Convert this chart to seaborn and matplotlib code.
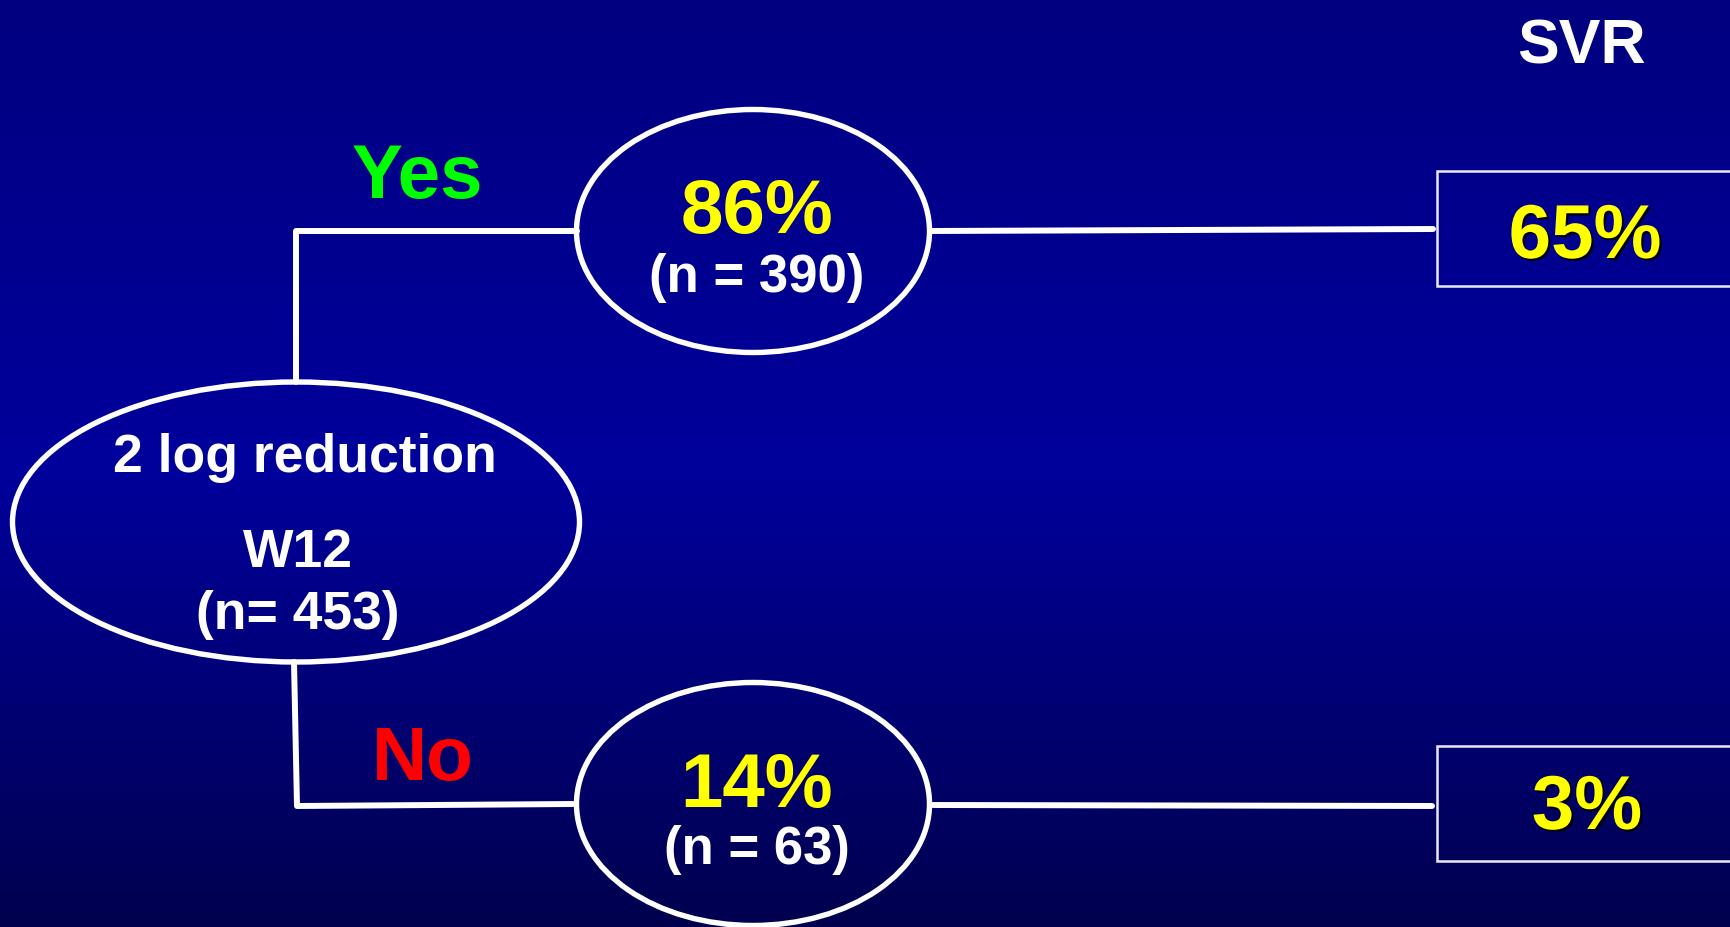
import numpy as np
import pandas as pd
import matplotlib
matplotlib.use("Agg")
import matplotlib.pyplot as plt
import matplotlib.patheffects as pe
from matplotlib.patches import Ellipse, Rectangle
import seaborn as sns

# Decision tree values: week-12 response split and resulting SVR
root_label = ["2 log reduction", "W12"]
root_n = 453
branch_labels = ["Yes", "No"]
branch_colors = ["#00FF00", "#FF0000"]
branch_pct = [86, 14]
branch_n = [390, 63]
svr_title = "SVR"
svr_pct = [65, 3]

sns.set_theme(style="white")
plt.rcParams["font.family"] = ["Liberation Sans", "DejaVu Sans"]
plt.rcParams["font.weight"] = "bold"

W, H = 1731, 928
fig = plt.figure(figsize=(W / 100, H / 100), dpi=100)
ax = fig.add_axes([0, 0, 1, 1])

# Navy background: brightest slightly above the middle, darker to top and bottom
rows = np.arange(H)
blue = np.interp(rows, [0, 470, H - 1], [128, 156, 78]) / 255.0
grad = np.zeros((H, 1, 3))
grad[:, 0, 2] = blue
ax.imshow(grad, extent=[0, W, H, 0], aspect="auto", zorder=0)

# Layout
root_c, root_w, root_h = (296, 523), 567, 280
node_x, node_w, node_h = 753, 353, 243
node_y = [232, 805]
box_x0, box_w, box_h = 1437, 294, 115
box_y0 = [172, 747]
white = "white"

# Connectors drawn as seaborn line segments
segs = pd.DataFrame({
    "seg": [0, 0, 0, 1, 1, 1, 2, 2, 3, 3],
    "x": [296, 296, 577, 294, 297, 573, 930, 1433, 933, 1432],
    "y": [383, 232, 232, 663, 807, 805, 232, 230, 806, 807],
})
sns.lineplot(data=segs, x="x", y="y", units="seg", estimator=None, sort=False,
             color=white, linewidth=4.3, ax=ax, zorder=2, legend=False)
ax.set_xlim(0, W)
ax.set_ylim(H, 0)
ax.axis("off")

# Ellipses
ax.add_patch(Ellipse(root_c, root_w, root_h, facecolor="none", edgecolor=white,
                     linewidth=3.9, zorder=3))
for y in node_y:
    ax.add_patch(Ellipse((node_x, y), node_w, node_h, facecolor="none",
                         edgecolor=white, linewidth=3.9, zorder=3))

# SVR boxes
for y0 in box_y0:
    ax.add_patch(Rectangle((box_x0, y0), box_w, box_h, facecolor="none",
                           edgecolor="#E8E8F0", linewidth=1.8, zorder=3))

def txt(x, y, s, size, color=white, effects=None):
    ax.text(x, y, s, fontsize=size, color=color, ha="center", va="baseline",
            fontweight="bold", zorder=5, path_effects=effects)

# Root node text
txt(305, 472, root_label[0], 38.5)
txt(298, 567, root_label[1], 38.5)
txt(298, 629, f"(n= {root_n})", 38.5)

# Branch labels
txt(417, 198, branch_labels[0], 55, branch_colors[0])
txt(423, 780, branch_labels[1], 55, branch_colors[1])

# Branch nodes
pct_base = [233, 807]
n_base = [292, 864]
for i in range(2):
    txt(757, pct_base[i], f"{branch_pct[i]}%", 55, "#FFFF00")
    txt(757, n_base[i], f"(n = {branch_n[i]})", 38)

# SVR title and results
txt(1581, 64, svr_title, 45)
shadow = [pe.SimplePatchShadow(offset=(1.6, -1.6), shadow_rgbFace="black", alpha=0.9),
          pe.Normal()]
svr_base = [259, 830]
svr_x = [1585, 1587]
for i in range(2):
    txt(svr_x[i], svr_base[i], f"{svr_pct[i]}%", 55, "#FFFF00", shadow)

fig.savefig("out.png", dpi=100)
